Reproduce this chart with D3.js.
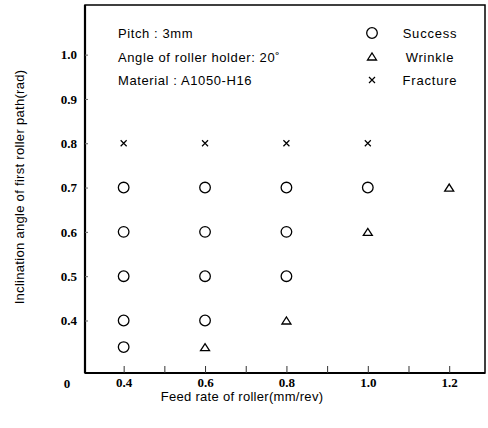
<!DOCTYPE html>
<html><head><meta charset="utf-8">
<script src="https://cdn.jsdelivr.net/npm/d3@7"></script>
<style>body{margin:0;background:#fff}</style>
</head><body>
<svg id="c" width="488" height="428"></svg>
<script>
const xTicks = [0.4, 0.5, 0.6, 0.7, 0.8, 0.9, 1.0, 1.1, 1.2];
const xTickLabels = ["0.4", "", "0.6", "", "0.8", "", "1.0", "", "1.2"];
const yTicks = [0.4, 0.5, 0.6, 0.7, 0.8, 0.9, 1.0];
const yTickLabels = ["0.4", "0.5", "0.6", "0.7", "0.8", "0.9", "1.0"];
const successX = [0.4, 0.4, 0.4, 0.4, 0.4, 0.6, 0.6, 0.6, 0.6, 0.8, 0.8, 0.8, 1.0];
const successY = [0.7, 0.6, 0.5, 0.4, 0.34, 0.7, 0.6, 0.5, 0.4, 0.7, 0.6, 0.5, 0.7];
const wrinkleX = [0.6, 0.8, 1.0, 1.2];
const wrinkleY = [0.34, 0.4, 0.6, 0.7];
const fractureX = [0.4, 0.6, 0.8, 1.0];
const fractureY = [0.8, 0.8, 0.8, 0.8];
const legendLabels = ["Success", "Wrinkle", "Fracture"];
const notes = ["Pitch : 3mm", "Angle of roller holder: 20˚", "Material : A1050-H16"];
const xTitle = "Feed rate of roller(mm/rev)";
const yTitle = "Inclination angle of first roller path(rad)";

const svg = d3.select("#c");
const L = 85, R = 485, T = 5, B = 373;
const x = d3.scaleLinear().domain([0.305, 1.288]).range([L, R]);
const y = d3.scaleLinear().domain([0.2815, 1.112]).range([B, T]);

// frame
svg.append("rect").attr("x", L).attr("y", T).attr("width", R - L).attr("height", B - T)
  .attr("fill", "none").attr("stroke", "#000").attr("stroke-width", 1.5);
svg.append("line").attr("x1", L).attr("x2", L).attr("y1", T).attr("y2", B).attr("stroke", "#000").attr("stroke-width", 2.2);
svg.append("line").attr("x1", L).attr("x2", R).attr("y1", B).attr("y2", B).attr("stroke", "#000").attr("stroke-width", 2.2);

const serif = "'Liberation Serif', 'Times New Roman', serif";
const sans = "'Liberation Sans', Arial, sans-serif";

// x axis
const xAxis = d3.axisBottom(x).tickValues(xTicks).tickSizeInner(-7).tickSizeOuter(0).tickPadding(5)
  .tickFormat((d, i) => xTickLabels[i]);
const gx = svg.append("g").attr("transform", `translate(0,${B})`).call(xAxis);
gx.select(".domain").remove();
gx.selectAll(".tick line").attr("stroke", "#333").attr("stroke-width", 1);
gx.selectAll("text").attr("font-family", serif).attr("font-weight", "bold").attr("font-size", 13).attr("fill", "#000");

// y axis
const yAxis = d3.axisLeft(y).tickValues(yTicks).tickSizeInner(-3).tickSizeOuter(0).tickPadding(8)
  .tickFormat((d, i) => yTickLabels[i]);
const gy = svg.append("g").attr("transform", `translate(${L},0)`).call(yAxis);
gy.select(".domain").remove();
gy.selectAll(".tick line").attr("stroke", "#666").attr("stroke-width", 1);
gy.selectAll("text").attr("font-family", serif).attr("font-weight", "bold").attr("font-size", 13).attr("fill", "#000");

// origin label
svg.append("text").attr("x", 67).attr("y", 388).attr("text-anchor", "middle")
  .attr("font-family", serif).attr("font-weight", "bold").attr("font-size", 13).text("0");

// titles
svg.append("text").attr("x", 242).attr("y", 401).attr("text-anchor", "middle")
  .attr("font-family", sans).attr("font-size", 13).attr("letter-spacing", 0.3).text(xTitle);
svg.append("text").attr("transform", "translate(24,187) rotate(-90)").attr("text-anchor", "middle")
  .attr("font-family", sans).attr("font-size", 13).attr("letter-spacing", 0.3).text(yTitle);

// markers
function circ(g, cx, cy) {
  g.append("circle").attr("cx", cx).attr("cy", cy).attr("r", 5.3)
    .attr("fill", "none").attr("stroke", "#000").attr("stroke-width", 1.3);
}
function tri(g, cx, cy) {
  g.append("path").attr("d", `M${cx - 4.5},${cy + 3.5}L${cx + 4.5},${cy + 3.5}L${cx},${cy - 3.5}Z`)
    .attr("fill", "none").attr("stroke", "#000").attr("stroke-width", 1.3);
}
function cross(g, cx, cy) {
  const s = 3;
  g.append("path").attr("d", `M${cx - s},${cy - s}L${cx + s},${cy + s}M${cx - s},${cy + s}L${cx + s},${cy - s}`)
    .attr("stroke", "#000").attr("stroke-width", 1.2);
}
const gm = svg.append("g");
successX.forEach((v, i) => circ(gm, x(v), y(successY[i])));
wrinkleX.forEach((v, i) => tri(gm, x(v), y(wrinkleY[i])));
fractureX.forEach((v, i) => cross(gm, x(v), y(fractureY[i])));

// notes
notes.forEach((t, i) => {
  svg.append("text").attr("x", 118).attr("y", 38 + i * 23.5)
    .attr("font-family", sans).attr("font-size", 13).attr("letter-spacing", 0.6).text(t);
});

// legend
const symbols = [circ, tri, cross];
legendLabels.forEach((t, i) => {
  const cy = 33 + i * 23.5;
  symbols[i](svg, 372, cy);
  svg.append("text").attr("x", 430).attr("y", cy + 5).attr("text-anchor", "middle")
    .attr("font-family", sans).attr("font-size", 13).attr("letter-spacing", 0.8).text(t);
});
</script>
</body></html>
